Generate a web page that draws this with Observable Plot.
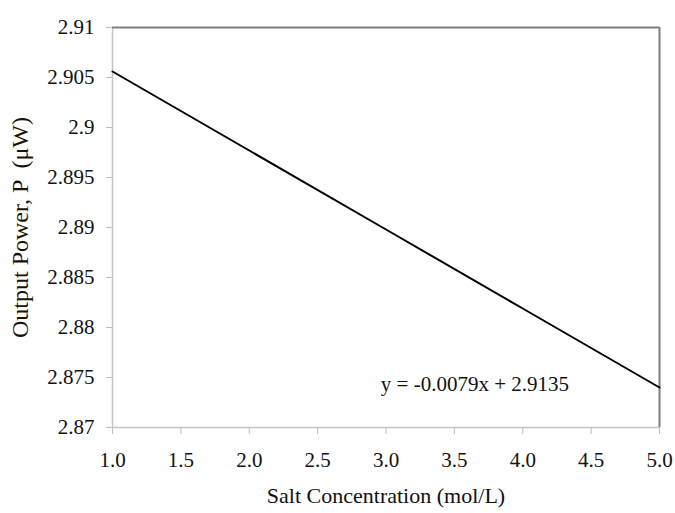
<!DOCTYPE html>
<html>
<head>
<meta charset="utf-8">
<script src="https://cdn.jsdelivr.net/npm/d3@7"></script>
<script src="https://cdn.jsdelivr.net/npm/@observablehq/plot@0.6"></script>
<style>
  html, body { margin: 0; padding: 0; background: #fff; }
  #chart svg, #chart svg text, #chart svg g { font-family: "Liberation Serif", "Times New Roman", serif !important; }
</style>
</head>
<body>
<div id="chart"></div>
<script>
const concentration = [1, 2, 3, 4, 5];
const power = [2.9056, 2.8977, 2.8898, 2.8819, 2.8740];
const xTicks = [1.0, 1.5, 2.0, 2.5, 3.0, 3.5, 4.0, 4.5, 5.0];
const yTicks = [2.87, 2.875, 2.88, 2.885, 2.89, 2.895, 2.9, 2.905, 2.91];
const equationText = "y = -0.0079x + 2.9135";
const xTitle = "Salt Concentration (mol/L)";
const yTitle = "Output Power, P  (\u03bcW)";

const data = concentration.map((c, i) => ({c, p: power[i]}));
const serif = "Liberation Serif";

const chart = Plot.plot({
  width: 675,
  height: 513,
  marginLeft: 112,
  marginRight: 16,
  marginTop: 27,
  marginBottom: 86,
  style: "font-family: 'Liberation Serif', serif; font-size: 21px; color: #111; background: #fff;",
  x: {domain: [1, 5]},
  y: {domain: [2.87, 2.91]},
  marks: [
    Plot.axisX({ticks: xTicks, tickFormat: d3.format(".1f"), tickSize: 7, tickPadding: 18, stroke: "#bdbdbd", fontSize: 21, fontFamily: serif, fill: "#111", label: null}),
    Plot.axisY({ticks: yTicks, tickFormat: d => String(+d.toFixed(3)), tickSize: 6, tickPadding: 12, stroke: "#bdbdbd", fontSize: 21, fontFamily: serif, fill: "#111", label: null}),
    Plot.ruleX([1], {stroke: "#c4c4c4", strokeWidth: 1.5}),
    Plot.ruleY([2.87], {stroke: "#c4c4c4", strokeWidth: 1.5}),
    Plot.ruleY([2.91], {stroke: "#808080", strokeWidth: 2}),
    Plot.ruleX([5], {stroke: "#808080", strokeWidth: 2}),
    Plot.line(data, {x: "c", y: "p", stroke: "#000", strokeWidth: 2}),
    Plot.text([equationText], {x: 3.65, y: 2.8743, text: d => d, fontSize: 21, fontFamily: serif, fill: "#111", textAnchor: "middle"}),
    Plot.text([xTitle], {frameAnchor: "bottom", dy: 75, text: d => d, fontSize: 22, fontFamily: serif, fill: "#111"}),
    Plot.text([yTitle], {frameAnchor: "left", textAnchor: "middle", dx: -92, rotate: -90, text: d => d, fontSize: 24, fontFamily: serif, fill: "#1a1208"})
  ]
});
document.getElementById("chart").appendChild(chart);
</script>
</body>
</html>
